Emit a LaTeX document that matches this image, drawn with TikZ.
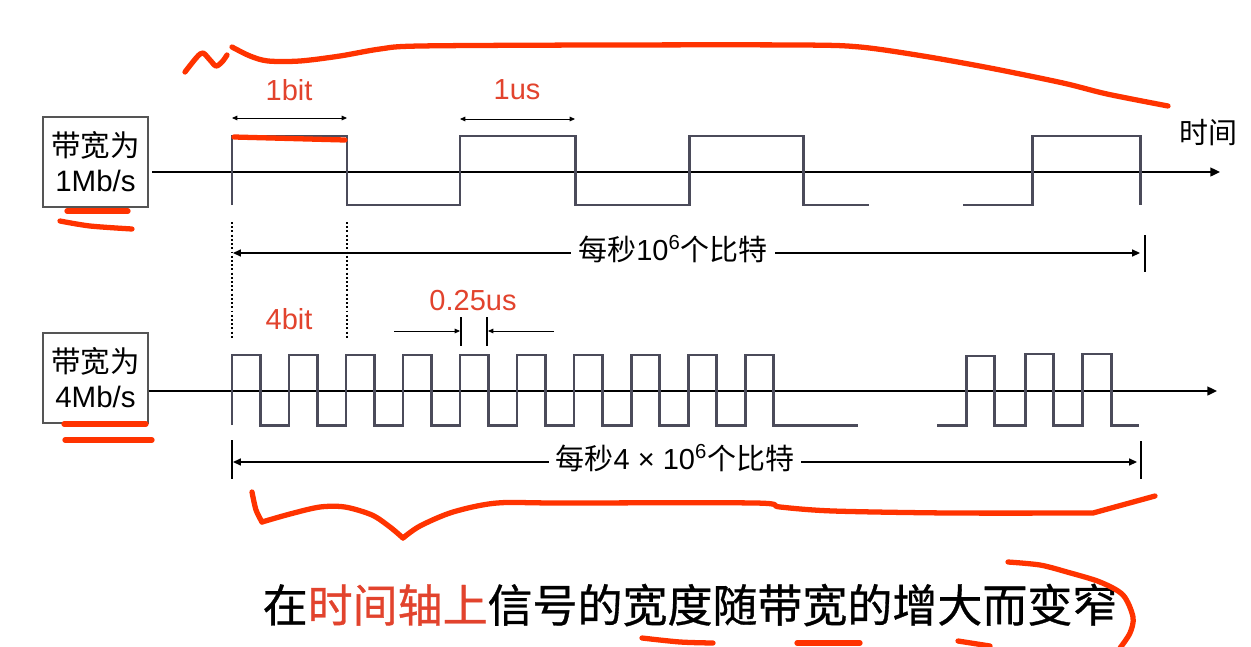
\documentclass[tikz,border=0pt]{standalone}
\usepackage{fontspec}
\setmainfont{Liberation Sans}
\newfontfamily\cjk{Noto Sans CJK SC}
\newfontfamily\cjkheavy[FakeBold=0.7]{Noto Sans CJK SC}
\usetikzlibrary{arrows.meta}
\definecolor{wave}{HTML}{4B4B5A}
\definecolor{boxline}{HTML}{555555}
\definecolor{labred}{HTML}{E2432D}
\definecolor{ink}{HTML}{FF3300}
\tikzset{
  rate/.style={
    draw=boxline, line width=1pt, minimum width=2.1cm, minimum height=1.8cm,
    inner sep=0pt, align=center, font=\fontsize{16.8}{20}\selectfont
  },
  dimlab/.style={font=\fontsize{16.5}{20}\selectfont, text=labred, inner sep=0pt},
  spanlab/.style={font=\fontsize{16.5}{20}\selectfont, fill=white, inner xsep=4pt, inner ysep=1pt},
  axis/.style={line width=1.1pt, -{Triangle[length=5.5pt,width=5pt]}},
  sig/.style={draw=wave, line width=1.7pt},
  spanarr/.style={line width=0.8pt, {Triangle[length=4.5pt,width=4pt]}-{Triangle[length=4.5pt,width=4pt]}},
  bitarr/.style={line width=0.5pt, {Triangle[length=3pt,width=2.6pt]}-{Triangle[length=3pt,width=2.6pt]}},
  onearr/.style={line width=0.5pt, -{Triangle[length=3pt,width=2.6pt]}},
  tickline/.style={line width=0.6pt},
  dotline/.style={line width=0.9pt, dash pattern=on 1.1pt off 1.3pt},
  pen/.style={draw=ink, line width=3pt, line cap=round, line join=round}
}

\begin{document}
\begin{tikzpicture}[x=0.02cm, y=-0.02cm]
  \useasboundingbox[fill=white] (0,0) rectangle (1251,646);

  \node[rate] (bw1) at (95.5,162) {{\cjk 带宽为}\\1Mb/s};
  \node[rate] (bw4) at (95.5,378) {{\cjk 带宽为}\\4Mb/s};

  \coordinate (t1) at (1220,172);
  \coordinate (t4) at (1217,391);
  \draw[axis] ([xshift=2pt]bw1.east |- t1) -- (t1);
  \draw[axis] (bw4.east |- t4) -- (t4);
  \node[font=\fontsize{16.5}{20}\selectfont\cjk, inner sep=0pt] (time) at (1208,133) {时间};

  \draw[sig] (232,205) -- (232,136) -- (347,136) -- (347,205) -- (460,205) -- (460,136)
    -- (575,136) -- (575,205) -- (689,205) -- (689,136) -- (803,136) -- (803,205) -- (869,205);
  \draw[sig] (963,205) -- (1032,205) -- (1032,136) -- (1140,136) -- (1140,205);

  \draw[sig] (232,425) \foreach \k in {1,...,10} {-- ++(0,-70) -- ++(28.5,0) -- ++(0,70) -- ++(28.5,0)} -- (858,425);
  \draw[sig] (937,425) -- (966,425) -- (966,356) -- (994,356) -- (994,425) -- (1025,425) -- (1025,354)
    -- (1053,354) -- (1053,425) -- (1082,425) -- (1082,354) -- (1111,354) -- (1111,425) -- (1139,425);

  \coordinate (b1l) at (232,118);
  \coordinate (b1r) at (347,118);
  \draw[bitarr] (b1l) -- (b1r);
  \node[dimlab] (onebit) at (289,90) {1bit};
  \coordinate (u1l) at (460,119);
  \coordinate (u1r) at (575,119);
  \draw[bitarr] (u1l) -- (u1r);
  \node[dimlab] (oneus) at (517,90) {1us};

  \draw[dotline] (232,222) -- (232,340);
  \draw[dotline] (347,222) -- (347,340);
  \node[dimlab] (fourbit) at (289,319) {4bit};

  \coordinate (q1) at (394,331);
  \coordinate (q2) at (460,331);
  \coordinate (q3) at (488,331);
  \coordinate (q4) at (554,331);
  \draw[onearr] (q1) -- (q2);
  \draw[onearr] (q4) -- (q3);
  \draw[tickline] (461,317) -- (461,346);
  \draw[tickline] (487,317) -- (487,346);
  \node[dimlab] (quart) at (473,301) {0.25us};

  \coordinate (s1l) at (233,253);
  \coordinate (s1r) at (1140,253);
  \draw[spanarr] (s1l) -- (s1r);
  \draw[tickline] (1145,235) -- (1145,272);
  \node[spanlab] (s1) at (673,249) {{\cjk 每秒}10\textsuperscript{6}{\cjk 个比特}};

  \coordinate (s4l) at (233,462);
  \coordinate (s4r) at (1137,462);
  \draw[spanarr] (s4l) -- (s4r);
  \draw[tickline] (232,440) -- (232,479);
  \draw[tickline] (1141,441) -- (1141,479);
  \node[spanlab] (s4) at (675,458) {{\cjk 每秒}4 × 10\textsuperscript{6}{\cjk 个比特}};

  \node[font=\fontsize{25.6}{30}\selectfont\cjkheavy, inner sep=0pt] (msg) at (690,605)
    {在{\color{labred}时间轴上}信号的宽度随带宽的增大而变窄};

  \draw[pen] plot[smooth] coordinates {(185,72) (197,57) (203,53) (210,60) (216,66) (222,62) (227,55)};
  \draw[pen] plot[smooth] coordinates {(232,47) (250,56) (268,61) (300,61) (340,56) (380,49) (420,46)
    (600,45) (800,45) (860,47) (923,56) (990,68) (1063,83) (1107,94) (1168,106)};
  \draw[pen] (67,211) -- (128,211);
  \draw[pen] plot[smooth] coordinates {(60,221) (90,226) (132,229)};
  \draw[pen] (234,137) -- (345,140);
  \draw[pen] (64,424) -- (146,424);
  \draw[pen] (65,440) -- (152,440);
  \draw[pen] plot[smooth] coordinates {(252,492) (256,510) (262,522)};
  \draw[pen] plot[smooth] coordinates {(262,522) (290,514) (320,507) (345,507) (372,515) (390,527) (403,538)};
  \draw[pen] plot[smooth] coordinates {(403,538) (420,526) (453,512) (497,503) (560,503) (755,503)
    (780,507) (833,511) (950,513) (1093,513)} -- (1155,496);
  \draw[pen] plot[smooth] coordinates {(1008,562) (1040,565) (1067,572) (1100,582) (1123,595) (1133,617) (1130,633) (1120,648)};
  \draw[pen] (958,641) -- (990,646);
  \draw[pen] plot[smooth] coordinates {(642,638) (680,642) (713,643)};
  \draw[pen] (797,643) -- (860,643);
\end{tikzpicture}
\end{document}
